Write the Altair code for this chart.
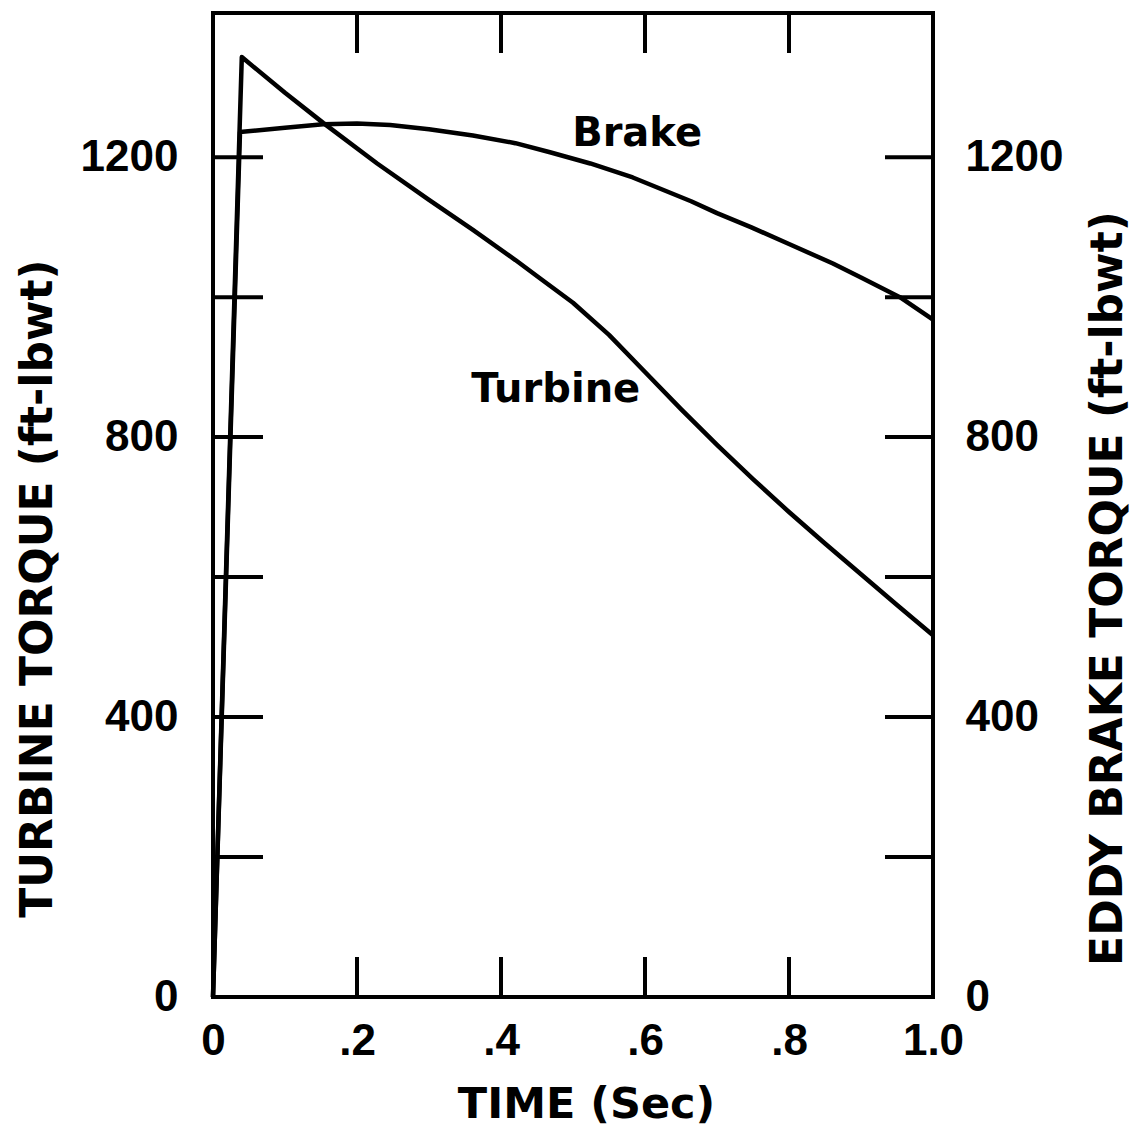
import json
import altair as alt
import pandas as pd

# ---- data ----
turbine_t = [0, 0.040, 0.10, 0.153, 0.228, 0.30, 0.361, 0.42, 0.454, 0.50, 0.55,
             0.60, 0.65, 0.70, 0.75, 0.80, 0.85, 0.90, 0.95, 1.0]
turbine_v = [0, 1343, 1292, 1249, 1191, 1139, 1096, 1053, 1027, 992, 946,
             893, 840, 789, 740, 693, 648, 604, 560, 517]

brake_t = [0, 0.0375, 0.10, 0.153, 0.20, 0.246, 0.30, 0.361, 0.42, 0.468, 0.524,
           0.583, 0.664, 0.70, 0.747, 0.80, 0.861, 0.90, 0.954, 1.0]
brake_v = [0, 1236, 1242, 1247, 1248, 1246, 1240, 1231, 1220, 1207, 1191,
           1171, 1137, 1120, 1100, 1076, 1048, 1028, 1000, 968]

x_tick_values = [0, 0.2, 0.4, 0.6, 0.8, 1.0]
x_tick_labels = ["0", ".2", ".4", ".6", ".8", "1.0"]
x_minor_ticks = [0.2, 0.4, 0.6, 0.8]

y_label_values = [0, 400, 800, 1200]
y_tick_values = [200, 400, 600, 800, 1000, 1200]

curve_labels = ["Brake", "Turbine"]
curve_label_t = [0.589, 0.476]
curve_label_v = [1233, 868]

x_title = "TIME (Sec)"
y_left_title = "TURBINE TORQUE (ft-lbwt)"
y_right_title = "EDDY BRAKE TORQUE (ft-lbwt)"

# ---- tables ----
df_lines = pd.concat([
    pd.DataFrame({"t": turbine_t, "v": turbine_v, "series": "Turbine"}),
    pd.DataFrame({"t": brake_t, "v": brake_v, "series": "Brake"}),
])
df_labels = pd.DataFrame({"t": curve_label_t, "v": curve_label_v, "label": curve_labels})
df_yticks = pd.DataFrame({"v": y_tick_values})
df_xticks = pd.DataFrame({"t": x_minor_ticks})

W, H = 720, 984
TICK_FONT = "Liberation Sans"
TITLE_FONT = "DejaVu Sans"

xscale = alt.Scale(domain=[0, 1], nice=False, zero=False)
yscale = alt.Scale(domain=[0, 1406], nice=False)

label_expr = json.dumps(x_tick_labels) + "[round(datum.value * 5)]"

xaxis = alt.Axis(
    values=x_tick_values, labelExpr=label_expr, ticks=False, domain=False, grid=False,
    labelFont=TICK_FONT, labelFontWeight="bold", labelFontSize=44, labelColor="black",
    labelPadding=22, labelFlush=False, labelOverlap=False,
    title=x_title, titleFont=TITLE_FONT, titleFontWeight="bold", titleFontSize=43,
    titleColor="black", titleX=373, titleY=107, titleAlign="center", titleBaseline="middle",
)

def y_axis(orient, title, title_x, pad):
    return alt.Axis(
        orient=orient, values=y_label_values, format="d", ticks=False, domain=False, grid=False,
        labelFont=TICK_FONT, labelFontWeight="bold", labelFontSize=44, labelColor="black",
        labelPadding=pad, labelOverlap=False, labelFlush=False,
        title=title, titleFont=TITLE_FONT, titleFontWeight="bold", titleFontSize=44,
        titleColor="black", titleX=title_x, titleY=575, titleAngle=270,
        titleAlign="center", titleBaseline="middle",
    )

xenc = alt.X("t:Q", scale=xscale, axis=xaxis)

lines = alt.Chart(df_lines).mark_line(color="black", strokeWidth=4.5, strokeJoin="round").encode(
    x=xenc,
    y=alt.Y("v:Q", scale=yscale, axis=None),
    detail="series:N",
    order="t:Q",
)

texts = alt.Chart(df_labels).mark_text(
    font=TITLE_FONT, fontWeight="bold", fontSize=40, color="black",
    align="center", baseline="middle",
).encode(
    x=xenc,
    y=alt.Y("v:Q", scale=yscale, axis=None),
    text="label:N",
)

left_ticks = alt.Chart(df_yticks).mark_rule(color="black", strokeWidth=4).encode(
    y=alt.Y("v:Q", scale=yscale, axis=y_axis("left", y_left_title, -175, 35)),
    x=alt.value(0), x2=alt.value(50),
)

right_ticks = alt.Chart(df_yticks).mark_rule(color="black", strokeWidth=4).encode(
    y=alt.Y("v:Q", scale=yscale, axis=y_axis("right", y_right_title, 175, 32)),
    x=alt.value(W - 48), x2=alt.value(W),
)

bottom_ticks = alt.Chart(df_xticks).mark_rule(color="black", strokeWidth=4).encode(
    x=xenc, y=alt.value(H - 40), y2=alt.value(H),
)

top_ticks = alt.Chart(df_xticks).mark_rule(color="black", strokeWidth=4).encode(
    x=xenc, y=alt.value(0), y2=alt.value(40),
)

chart = alt.layer(
    left_ticks, right_ticks, bottom_ticks, top_ticks, lines, texts
).resolve_axis(
    y="independent"
).properties(
    width=W, height=H,
    padding={"left": 213, "top": 13, "right": 212, "bottom": 133},
    autosize=alt.AutoSizeParams(type="none"),
    background="white",
).configure_view(
    stroke="black", strokeWidth=4,
)

chart.save("out.html", embed_options={"renderer": "svg", "actions": False})
